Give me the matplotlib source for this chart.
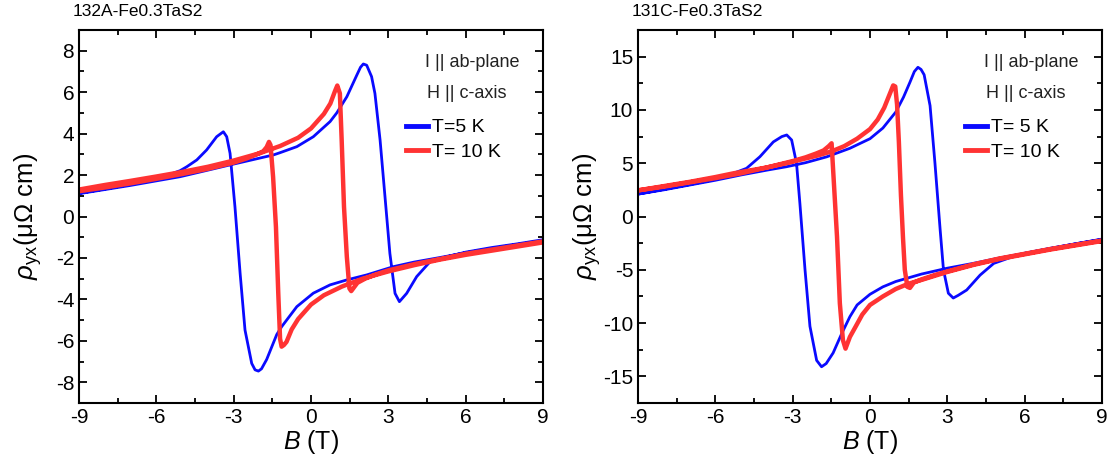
import numpy as np
import matplotlib
matplotlib.use('Agg')
import matplotlib.pyplot as plt
from matplotlib.ticker import MultipleLocator

plt.rcParams['font.family'] = ['Liberation Sans', 'DejaVu Sans']
plt.rcParams['mathtext.fontset'] = 'custom'
plt.rcParams['mathtext.rm'] = 'Liberation Sans'
plt.rcParams['mathtext.it'] = 'Liberation Sans:italic'
plt.rcParams['axes.unicode_minus'] = False

# ---- sample 132A, T = 5 K (field sweep down 9 -> -9, then up -9 -> 9)
a5_down_B = [9.0, 8.0, 7.0, 6.0, 5.0, 4.0, 3.2, 2.16, 1.39, 0.74, 0.09, -0.55, -1.14,
             -1.33, -1.72, -1.92, -2.04, -2.17, -2.3, -2.56, -2.75, -2.95, -3.14, -3.27, -3.4, -3.52,
             -3.66, -4.05, -4.43, -4.82, -5.08, -6.0, -7.0, -8.0, -9.0]
a5_down_R = [-1.18, -1.35, -1.55, -1.75, -1.98, -2.2, -2.42, -2.82, -3.06, -3.3, -3.7, -4.35, -5.32,
             -5.7, -6.9, -7.35, -7.46, -7.4, -7.09, -5.48, -2.74, 0.47, 3.05, 3.85, 4.09, 3.98,
             3.85, 3.21, 2.73, 2.4, 2.21, 1.8, 1.55, 1.33, 1.12]
a5_up_B = [-9.0, -8.0, -7.0, -6.0, -5.08, -3.14, -1.46, -1.2, -0.55, 0.09, 0.74, 1.0, 1.39,
           1.78, 1.92, 2.03, 2.16, 2.35, 2.48, 2.68, 2.87, 3.06, 3.26, 3.43, 3.71, 4.1, 4.62,
           5.08, 6.0, 7.0, 8.0, 9.0]
a5_up_R = [1.1, 1.3, 1.5, 1.72, 1.92, 2.49, 2.97, 3.08, 3.37, 3.85, 4.58, 5.0, 5.78,
           6.83, 7.2, 7.36, 7.3, 6.75, 5.94, 3.69, 0.96, -1.78, -3.71, -4.11, -3.71, -2.9, -2.18,
           -2.0, -1.72, -1.5, -1.32, -1.12]

# ---- sample 132A, T = 10 K
a10_down_B = [9.0, 8.0, 7.0, 6.0, 5.0, 4.0, 3.0, 2.0, 1.2, 0.5, 0.0, -0.5, -0.75, -0.95,
              -1.05, -1.14, -1.2, -1.27, -1.36, -1.47, -1.57, -1.63, -1.72, -1.85, -2.1,
              -2.5, -3.0, -4.0, -5.0, -6.0, -7.0, -8.0, -9.0]
a10_down_R = [-1.25, -1.45, -1.65, -1.85, -2.08, -2.35, -2.65, -3.0, -3.38, -3.8, -4.25, -4.95, -5.45, -6.05,
              -6.2, -6.28, -5.9, -3.7, -0.5, 1.9, 3.45, 3.6, 3.35, 3.15, 3.0,
              2.8, 2.6, 2.3, 2.05, 1.82, 1.6, 1.4, 1.22]
a10_up_B = [-9.0, -8.0, -7.0, -6.0, -5.0, -4.0, -3.0, -2.0, -1.2, -0.5, 0.0, 0.5, 0.75, 0.93,
            1.02, 1.12, 1.19, 1.28, 1.39, 1.49, 1.56, 1.65, 1.8, 2.1, 2.5, 3.0, 4.0, 5.0,
            6.0, 7.0, 8.0, 9.0]
a10_up_R = [1.3, 1.52, 1.72, 1.93, 2.15, 2.4, 2.7, 3.05, 3.4, 3.8, 4.25, 4.95, 5.45, 6.05,
            6.32, 5.94, 3.69, 0.47, -1.94, -3.47, -3.6, -3.45, -3.2, -3.0, -2.8, -2.6, -2.3, -2.05,
            -1.8, -1.6, -1.4, -1.2]

# ---- sample 131C, T = 5 K
c5_down_B = [9.0, 8.0, 7.0, 6.0, 5.0, 4.0, 3.0, 2.0, 1.0, 0.5, 0.0, -0.5, -0.78, -1.1,
             -1.43, -1.7, -1.88, -2.07, -2.33, -2.52, -2.72, -2.85, -3.04, -3.23, -3.42,
             -3.75, -4.27, -4.79, -5.3, -6.0, -7.0, -8.0, -9.0]
c5_down_R = [-2.15, -2.55, -3.0, -3.45, -3.9, -4.4, -4.85, -5.4, -6.1, -6.6, -7.3, -8.3, -9.4, -11.0,
             -12.8, -13.8, -14.1, -13.5, -10.3, -5.02, 1.24, 4.99, 7.18, 7.65, 7.5,
             7.0, 5.61, 4.52, 4.05, 3.5, 3.0, 2.55, 2.1]
c5_up_B = [-9.0, -8.0, -7.0, -6.0, -5.0, -4.0, -3.24, -2.5, -1.68, -0.78, 0.0, 0.5, 1.0, 1.3,
           1.55, 1.72, 1.86, 1.98, 2.1, 2.33, 2.52, 2.72, 2.85, 3.04, 3.23, 3.42, 3.75,
           4.27, 4.8, 5.5, 6.0, 7.0, 8.0, 9.0]
c5_up_R = [2.1, 2.5, 2.95, 3.4, 3.9, 4.35, 4.67, 5.05, 5.6, 6.4, 7.3, 8.3, 9.8, 11.2,
           12.6, 13.6, 14.0, 13.8, 13.3, 10.4, 5.0, -1.2, -5.0, -7.2, -7.65, -7.4, -6.9,
           -5.5, -4.4, -3.8, -3.45, -2.98, -2.55, -2.12]

# ---- sample 131C, T = 10 K
c10_down_B = [9.0, 8.0, 7.0, 6.0, 5.0, 4.0, 3.0, 2.0, 1.5, 1.0, 0.5, 0.0, -0.3, -0.55,
              -0.78, -0.95, -1.05, -1.17, -1.28, -1.43, -1.49, -1.6, -1.8, -2.1, -2.5,
              -3.0, -4.0, -5.0, -6.0, -7.0, -8.0, -9.0]
c10_down_R = [-2.3, -2.7, -3.1, -3.55, -4.0, -4.55, -5.2, -5.95, -6.3, -6.8, -7.5, -8.3, -9.2, -10.3,
              -11.3, -12.4, -11.6, -8.14, -1.89, 4.36, 6.87, 6.6, 6.2, 5.9, 5.55,
              5.2, 4.6, 4.05, 3.6, 3.2, 2.8, 2.45]
c10_up_B = [-9.0, -8.0, -7.0, -6.0, -5.3, -4.0, -3.24, -2.07, -1.5, -1.0, -0.5, 0.0, 0.3, 0.55,
            0.75, 0.9, 0.98, 1.05, 1.12, 1.2, 1.28, 1.35, 1.45, 1.55, 1.7, 2.0, 2.5, 3.0,
            4.0, 5.0, 6.0, 7.0, 8.0, 9.0]
c10_up_R = [2.45, 2.85, 3.25, 3.7, 4.05, 4.6, 5.0, 5.7, 6.1, 6.6, 7.3, 8.2, 9.1, 10.2,
            11.4, 12.3, 12.2, 10.5, 7.0, 2.0, -2.0, -5.0, -6.6, -6.7, -6.2, -5.9, -5.5, -5.15,
            -4.5, -3.95, -3.5, -3.05, -2.65, -2.25]

panels = [
    dict(title='132A-Fe0.3TaS2', left=79, ylim=(-9, 9), major=2, minor=1,
         labels=['T=5 K', 'T= 10 K'],
         blue=(a5_down_B + a5_up_B, a5_down_R + a5_up_R),
         red=(a10_down_B + a10_up_B, a10_down_R + a10_up_R)),
    dict(title='131C-Fe0.3TaS2', left=638, ylim=(-17.5, 17.5), major=5, minor=2.5,
         labels=['T= 5 K', 'T= 10 K'],
         blue=(c5_down_B + c5_up_B, c5_down_R + c5_up_R),
         red=(c10_down_B + c10_up_B, c10_down_R + c10_up_R)),
]

W, H = 1115, 476
fig = plt.figure(figsize=(W / 100, H / 100), dpi=100)

for p in panels:
    ax = fig.add_axes([p['left'] / W, 73 / H, 464 / W, 373 / H])
    ax.plot(p['blue'][0], p['blue'][1], color='#0a0aff', lw=2.0, label=p['labels'][0])
    ax.plot(p['red'][0], p['red'][1], color='#ff3333', lw=3.2, label=p['labels'][1])
    ax.set_xlim(-9, 9)
    ax.set_ylim(*p['ylim'])
    ax.xaxis.set_major_locator(MultipleLocator(3))
    ax.xaxis.set_minor_locator(MultipleLocator(1.5))
    ax.yaxis.set_major_locator(MultipleLocator(p['major']))
    ax.yaxis.set_minor_locator(MultipleLocator(p['minor']))
    ax.tick_params(which='both', direction='in', top=True, right=True, width=1.3, labelsize=15)
    ax.tick_params(which='major', length=6)
    ax.tick_params(which='minor', length=3.5)
    for s in ax.spines.values():
        s.set_linewidth(1.5)
    ax.set_xlabel(r'$B$ (T)', fontsize=18, labelpad=1)
    ax.set_ylabel(r'$\rho_{\rm yx}$(μΩ cm)', fontsize=18.5, labelpad=0)
    ax.yaxis.set_label_coords(-0.075, 0.5)
    ax.text(0.847, 0.912, 'I || ab-plane', transform=ax.transAxes, fontsize=13,
            ha='center', va='center', color='#222222')
    ax.text(0.836, 0.831, 'H || c-axis', transform=ax.transAxes, fontsize=13,
            ha='center', va='center', color='#222222')
    leg = ax.legend(loc='upper left', bbox_to_anchor=(0.705, 0.762), frameon=False,
                    fontsize=14, handlelength=1.1, handletextpad=0.25,
                    labelspacing=0.35, borderpad=0, borderaxespad=0)
    for line in leg.get_lines():
        line.set_linewidth(3.5)
    fig.text((p['left'] - 6) / W, 1 - 12 / H, p['title'], fontsize=12.5,
             ha='left', va='center')

fig.savefig('out.png', dpi=100)
